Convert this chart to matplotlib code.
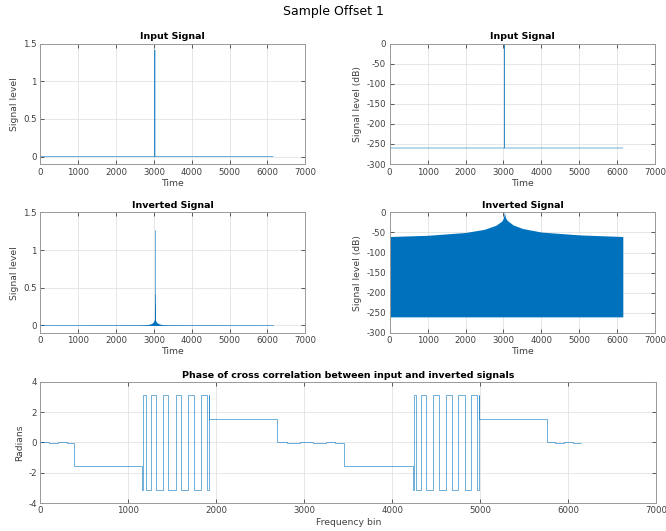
import numpy as np
import matplotlib
matplotlib.use("Agg")
import matplotlib.pyplot as plt

# ---- data ----
# input signal: single impulse, about 6144 samples long
input_time = [0, 3024, 3025, 3026, 6143]
input_level = [0, 0, 1.414, 0, 0]
input_db = [-260, -260, 3, -260, -260]

# inverted signal, linear: main spikes plus the small blob round them
inv_spike_time = [3025, 3027, 3023, 3029, 3021]
inv_spike_level = [1.27, 0.42, 0.28, 0.2, 0.14]
inv_blob_time = [0, 2600, 2800, 2900, 2950, 2990, 3010, 3040, 3060, 3100, 3150, 3250, 3450, 6143]
inv_blob_level = [0, 0.003, 0.008, 0.018, 0.03, 0.048, 0.075, 0.075, 0.048, 0.03, 0.018, 0.008, 0.003, 0]

# inverted signal, dB: upper envelope of the dense band and its floor
inv_env_time = [0, 1000, 2000, 2500, 2800, 2950, 2990, 3010, 3025, 3040, 3060, 3100, 3250, 3500, 4000, 5000, 6143]
inv_env_db = [-60, -57, -50, -42, -32, -22, -16, -8, 2, -8, -15, -20, -31, -40, -49, -56, -60]
inv_floor_db = -260

# phase of the cross correlation: step edges and levels (radians)
phase_edges = [0, 100, 200, 300, 384,
               1159, 1170, 1197, 1253, 1315, 1390, 1455, 1542, 1602, 1678, 1750, 1822, 1890, 1917, 1918,
               2688, 2800, 2950, 3100, 3250, 3350, 3456,
               4231, 4242, 4269, 4325, 4387, 4462, 4527, 4614, 4674, 4750, 4822, 4894, 4962, 4989, 4990,
               5760, 5850, 5950, 6050, 6143]
phase_levels = [0.02, -0.02, 0.02, -0.01,
                -1.571,
                -3.1416, 3.1416, -3.1416, 3.1416, -3.1416, 3.1416, -3.1416,
                3.1416, -3.1416, 3.1416, -3.1416, 3.1416, -3.1416,
                3.1416, 1.571,
                0.01, -0.02, 0.02, -0.02, 0.02, -0.01,
                -1.571,
                -3.1416, 3.1416, -3.1416, 3.1416, -3.1416, 3.1416, -3.1416,
                3.1416, -3.1416, 3.1416, -3.1416, 3.1416, -3.1416,
                3.1416, 1.571,
                0.02, -0.02, 0.01, -0.02]

x_ticks = [0, 1000, 2000, 3000, 4000, 5000, 6000, 7000]
lin_ticks = [0, 0.5, 1, 1.5]
db_ticks = [-300, -250, -200, -150, -100, -50, 0]
phase_ticks = [-4, -2, 0, 2, 4]

blue = "#0072BD"
line_kw = dict(color=blue, lw=0.5, alpha=0.8)
plt.rcParams['font.family'] = ['DejaVu Sans']
plt.rcParams['axes.unicode_minus'] = False


def style(ax, title, xlabel, ylabel):
    ax.set_title(title, fontsize=6.8, fontweight='bold', pad=3)
    ax.set_xlabel(xlabel, fontsize=6.7, color='#404040', labelpad=1.5)
    ax.set_ylabel(ylabel, fontsize=6.7, color='#404040', labelpad=3)
    ax.set_xlim(0, 7000)
    ax.set_xticks(x_ticks)
    ax.grid(True, color='#e3e3e3', linewidth=0.6)
    ax.set_axisbelow(True)
    ax.tick_params(direction='in', length=3, width=0.6, top=True, right=True,
                   labelsize=6.2, colors='#404040', pad=2.5)
    for s in ax.spines.values():
        s.set_color('#9a9a9a')
        s.set_linewidth(0.7)


fig = plt.figure(figsize=(6.66, 5.31), dpi=100)
fig.suptitle('Sample Offset 1', fontsize=9, y=0.99)

# input signal, linear
ax1 = fig.add_axes([0.0605, 0.691, 0.398, 0.227])
ax1.plot(input_time, input_level, **line_kw)
ax1.set_ylim(-0.1, 1.5)
ax1.set_yticks(lin_ticks)
ax1.set_yticklabels(['0', '0.5', '1', '1.5'])
style(ax1, 'Input Signal', 'Time', 'Signal level')

# input signal, dB
ax2 = fig.add_axes([0.585, 0.691, 0.399, 0.227])
ax2.plot(input_time, input_db, **line_kw)
ax2.set_ylim(-300, 0)
ax2.set_yticks(db_ticks)
style(ax2, 'Input Signal', 'Time', 'Signal level (dB)')

# inverted signal, linear
ax3 = fig.add_axes([0.0605, 0.373, 0.398, 0.227])
ax3.fill_between(inv_blob_time, 0, inv_blob_level, color=blue, lw=0)
ax3.plot([inv_blob_time[0], inv_blob_time[-1]], [0, 0], **line_kw)
ax3.vlines(inv_spike_time, 0, inv_spike_level, **line_kw)
ax3.set_ylim(-0.1, 1.5)
ax3.set_yticks(lin_ticks)
ax3.set_yticklabels(['0', '0.5', '1', '1.5'])
style(ax3, 'Inverted Signal', 'Time', 'Signal level')

# inverted signal, dB
ax4 = fig.add_axes([0.585, 0.373, 0.399, 0.227])
ax4.fill_between(inv_env_time, inv_floor_db, inv_env_db, color=blue, lw=0)
ax4.set_ylim(-300, 0)
ax4.set_yticks(db_ticks)
style(ax4, 'Inverted Signal', 'Time', 'Signal level (dB)')

# phase of cross correlation
ax5 = fig.add_axes([0.0605, 0.0527, 0.925, 0.228])
ax5.stairs(phase_levels, phase_edges, baseline=None, **line_kw)
ax5.set_ylim(-4, 4)
ax5.set_yticks(phase_ticks)
style(ax5, 'Phase of cross correlation between input and inverted signals',
      'Frequency bin', 'Radians')

fig.savefig('out.png', dpi=100)
